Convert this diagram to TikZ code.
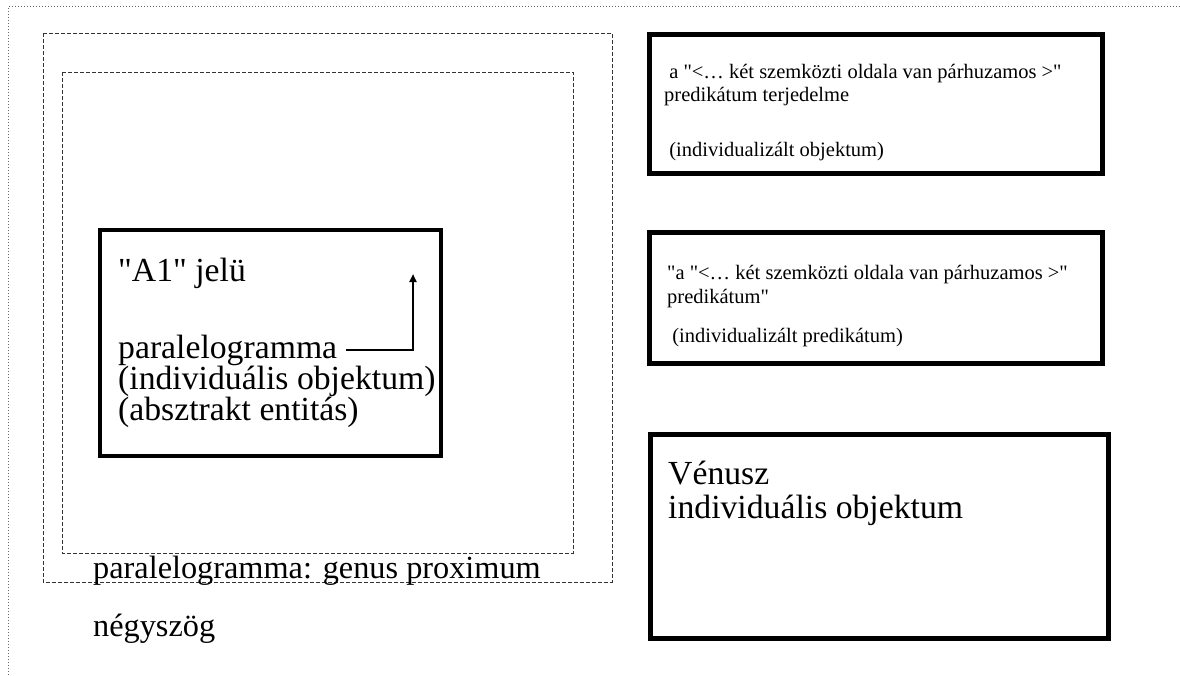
\documentclass[tikz,border=0pt]{standalone}
\usepackage{fontspec}
\setmainfont{Liberation Serif}[Ligatures=TeXOff]
\usetikzlibrary{arrows.meta}
\tikzset{
  frameline/.style={draw=black!60, line width=1pt, dotted},
  setbox/.style={draw=black!80, line width=1pt, dash pattern=on 4pt off 2pt},
  heavybox/.style={draw=black, line width=5pt},
  midbox/.style={draw=black, line width=4pt},
  bigtext/.style={anchor=base west, inner sep=0pt, font=\fontsize{33.7}{34}\selectfont},
  labeltext/.style={anchor=base west, inner sep=0pt, font=\fontsize{32.3}{34}\selectfont},
  smalltext/.style={anchor=base west, inner sep=0pt, font=\fontsize{20.5}{22}\selectfont},
  pointer/.style={draw=black, line width=2pt, -{Triangle[length=8pt,width=7pt]}}
}
\begin{document}
\begin{tikzpicture}[x=1pt,y=-1pt]
\useasboundingbox (0,0) rectangle (1180,675);
% page frame (top and left edges)
\coordinate (fTL) at (8.5,6.5);
\coordinate (fTR) at (1180,6.5);
\coordinate (fBL) at (8.5,675);
\draw[frameline] (fTR) -- (fTL) -- (fBL);
% nested concept extents
\draw[setbox] (43,33) rectangle (612,582);
\draw[setbox] (62,72) rectangle (573,553);
% the individual object
\draw[midbox] (100,230) rectangle (441,456);
\node[bigtext] (a1) at (118,281) {"A1" jelü};
\node[bigtext] (par) at (118,358) {paralelogramma};
\node[bigtext] (ind) at (118,389) {(individuális objektum)};
\node[bigtext] (abs) at (118,420) {(absztrakt entitás)};
\coordinate (start) at ([xshift=9pt]par.base east |- 0,350);
\coordinate (turn) at (413,350);
\coordinate (tip) at (413,274);
\draw[pointer] (start) -- (turn) -- (tip);
% labels of the extents
\node[labeltext] (genus) at (93,578) {paralelogramma: genus proximum};
\node[labeltext] (negy) at (93,636) {négyszög};
% right column
\draw[heavybox] (649.5,34.5) rectangle (1102.5,173.5);
\node[smalltext] (t1a) at (664,78) {\ a "<… két szemközti oldala van párhuzamos >"};
\node[smalltext] (t1b) at (664,101) {predikátum terjedelme};
\node[smalltext] (t1c) at (664,156) {\ (individualizált objektum)};
\draw[heavybox] (649.5,232.5) rectangle (1102.5,363.5);
\node[smalltext] (t2a) at (667,279) {"a "<… két szemközti oldala van párhuzamos >"};
\node[smalltext] (t2b) at (667,303) {predikátum"};
\node[smalltext] (t2c) at (667,342) {\ (individualizált predikátum)};
\draw[heavybox] (650.5,434.5) rectangle (1108.5,638.5);
\node[bigtext] (v1) at (668,484) {Vénusz};
\node[bigtext] (v2) at (668,518) {individuális objektum};
\end{tikzpicture}
\end{document}
